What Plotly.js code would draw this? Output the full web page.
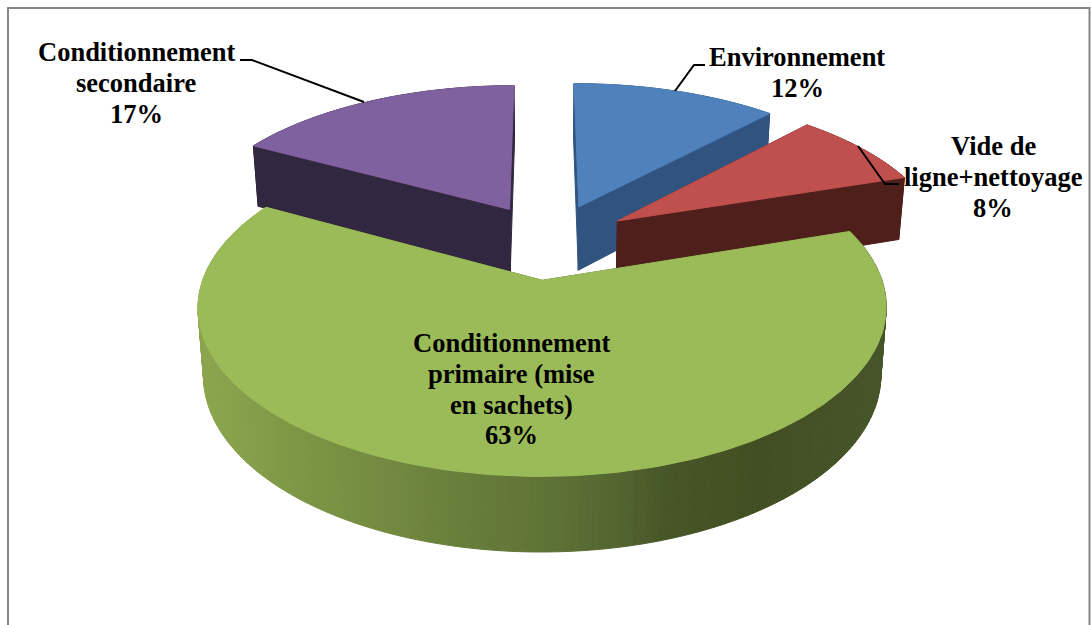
<!DOCTYPE html>
<html>
<head>
<meta charset="utf-8">
<script src="https://cdn.plot.ly/plotly-3.0.1.min.js"></script>
<style>html,body{margin:0;padding:0;background:#fff;overflow:hidden}#chart{width:1091px;height:625px}</style>
</head>
<body>
<div id="chart"></div>
<script>
// Shares of the exploded pie, clockwise from twelve o'clock
const categories = ['Environnement', 'Vide de ligne+nettoyage', 'Conditionnement primaire (mise en sachets)', 'Conditionnement secondaire'];
const shares = [12, 8, 63, 17];
const topColors = ['#4f81bd', '#c0504d', '#9bbb59', '#7f61a0'];
const cutColors = ['#30547f', '#4f1f1c', '#4f6128', '#322741'];

// Label lines, each one centred on its anchor
const labelLines = [
  ['Environnement', '12%'],
  ['Vide de', 'ligne+nettoyage', '8%'],
  ['Conditionnement', 'primaire (mise', 'en sachets)', '63%'],
  ['Conditionnement', 'secondaire', '17%']
];
const labelX = [797, 993, 511, 136];
const labelY = [57, 146, 343, 52];
const lineStep = 30.8;

// Leader lines from the labels to the slices
const leaderX = [[705, 694, 675], [899, 885, 858], [], [240, 252, 364]];
const leaderY = [[65, 65, 91], [184, 184, 146], [], [60, 60, 102]];

// Colour ramp of the lit rim, by horizontal position
const rimStopX = [205, 300, 400, 440, 560, 620, 665, 760, 888];
const rimStopRGB = [[139,165,78],[124,150,69],[114,136,64],[106,129,60],[93,113,54],[83,101,47],[71,86,39],[66,79,34],[70,85,42]];

// Camera used to project the disc
const cam = {cx: 550, cy: 241, a: 326.5, b: 152, k: 0.155, depth: 65, depthPow: 0.7, taper: 0.984, explode: 0.25, rot: -0.2};

function project(u, v, low) {
  const s = 1 / (1 + cam.k * v);
  let x = cam.cx + cam.a * u * s;
  let y = cam.cy - cam.b * v * s;
  if (low) { x = cam.cx + (x - cam.cx) * cam.taper; y += cam.depth * Math.pow(s, cam.depthPow); }
  return [x, y];
}

function rimColor(x) {
  let i = 0;
  while (i < rimStopX.length - 2 && x > rimStopX[i + 1]) i++;
  const t = Math.max(0, Math.min(1, (x - rimStopX[i]) / (rimStopX[i + 1] - rimStopX[i])));
  const c = rimStopRGB[i].map((p, n) => Math.round(p + (rimStopRGB[i + 1][n] - p) * t));
  return `rgb(${c[0]},${c[1]},${c[2]})`;
}

function poly(points, color) {
  return {
    type: 'scatter', mode: 'lines', fill: 'toself', fillcolor: color,
    x: points.map(p => p[0]), y: points.map(p => p[1]),
    line: {color: color, width: 1}, hoverinfo: 'skip', showlegend: false
  };
}

const total = shares.reduce((a, b) => a + b, 0);
const slices = [];
let running = cam.rot;
shares.forEach((value, i) => {
  const sweep = value / total * 360;
  slices.push({i, start: running, end: running + sweep});
  running += sweep;
});

const rad = d => d * Math.PI / 180;
const traces = [];

// Back slices are painted first so the large front slice covers them
[3, 0, 1, 2].forEach(idx => {
  const sl = slices[idx];
  const mid = rad((sl.start + sl.end) / 2);
  const ou = cam.explode * Math.sin(mid), ov = cam.explode * Math.cos(mid);
  const edge = deg => [ou + Math.sin(rad(deg)), ov + Math.cos(rad(deg))];
  const n = Math.ceil(sl.end - sl.start);
  const degs = [];
  for (let j = 0; j <= n; j++) degs.push(sl.start + (sl.end - sl.start) * j / n);

  // Outer rim
  for (let j = 0; j < n; j++) {
    const a = edge(degs[j]), b = edge(degs[j + 1]);
    const pts = [project(a[0], a[1]), project(b[0], b[1]), project(b[0], b[1], true), project(a[0], a[1], true)];
    const color = idx === 2 ? rimColor((pts[0][0] + pts[1][0]) / 2) : cutColors[idx];
    traces.push(poly(pts.concat([pts[0]]), color));
  }

  // The two cut faces
  [sl.start, sl.end].forEach(deg => {
    const e = edge(deg);
    const pts = [project(ou, ov), project(e[0], e[1]), project(e[0], e[1], true), project(ou, ov, true), project(ou, ov)];
    traces.push(poly(pts, cutColors[idx]));
  });

  // Top face
  const top = [project(ou, ov)].concat(degs.map(d => { const e = edge(d); return project(e[0], e[1]); }));
  top.push(top[0]);
  traces.push(poly(top, topColors[idx]));
});

categories.forEach((name, i) => {
  if (!leaderX[i].length) return;
  traces.push({
    type: 'scatter', mode: 'lines', name: name, x: leaderX[i], y: leaderY[i],
    line: {color: '#000', width: 2}, hoverinfo: 'skip', showlegend: false
  });
});

const annotations = [];
labelLines.forEach((lines, i) => {
  lines.forEach((text, j) => {
    annotations.push({
      x: labelX[i], y: labelY[i] + j * lineStep, xref: 'x', yref: 'y',
      text: '<b>' + text + '</b>', showarrow: false, xanchor: 'center', yanchor: 'middle',
      font: {family: '"Liberation Serif", serif', size: 26.5, color: '#000'}
    });
  });
});

const hidden = {visible: false, fixedrange: true};
Plotly.newPlot('chart', traces, {
  width: 1091, height: 625,
  margin: {l: 0, r: 0, t: 0, b: 0},
  paper_bgcolor: '#fff', plot_bgcolor: '#fff',
  xaxis: Object.assign({range: [0, 1091]}, hidden),
  yaxis: Object.assign({range: [625, 0]}, hidden),
  showlegend: false,
  annotations: annotations,
  shapes: [{
    type: 'path', xref: 'x', yref: 'y',
    path: 'M8,640 L8,8 L1089.5,8 L1089.5,640',
    line: {color: '#868686', width: 2}
  }]
}, {displayModeBar: false, staticPlot: true});
</script>
</body>
</html>
